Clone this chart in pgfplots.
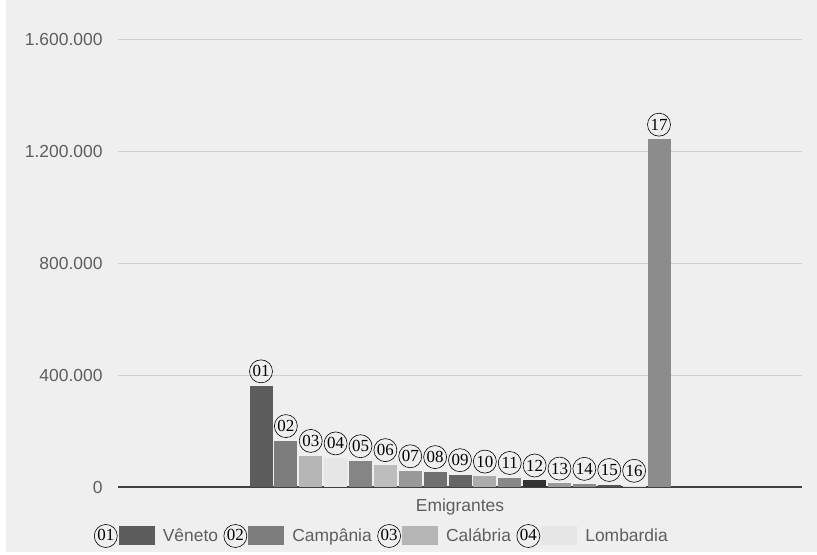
\documentclass[border=0pt]{standalone}
\usepackage{fontspec}
\setmainfont{Liberation Sans}
\newfontfamily\circserif{Liberation Serif}
\usepackage{pgfplots}
\pgfplotsset{compat=1.18}

\definecolor{bg}{HTML}{EFEFEF}
\definecolor{txt}{HTML}{5E5E5E}
\definecolor{gridc}{HTML}{CFCFCF}
\definecolor{c01}{HTML}{5C5C5C}
\definecolor{c02}{HTML}{7D7D7D}
\definecolor{c03}{HTML}{B5B5B5}
\definecolor{c04}{HTML}{E6E6E6}
\definecolor{c05}{HTML}{858585}
\definecolor{c06}{HTML}{BDBDBD}
\definecolor{c07}{HTML}{999999}
\definecolor{c08}{HTML}{707070}
\definecolor{c09}{HTML}{656565}
\definecolor{c10}{HTML}{ACACAC}
\definecolor{c11}{HTML}{888888}
\definecolor{c12}{HTML}{333333}
\definecolor{c13}{HTML}{9A9A9A}
\definecolor{c14}{HTML}{8A8A8A}
\definecolor{c15}{HTML}{555555}
\definecolor{c16}{HTML}{DDDDDD}
\definecolor{c17}{HTML}{8C8C8C}

\tikzset{circnum/.style={circle,draw=black,line width=0.6bp,inner sep=0pt,
  minimum size=23bp,fill=none,text=black,font=\fontsize{17}{17}\selectfont\circserif}}
\pgfplotsset{
  circleg/.style={legend image code/.code={%
    \node[circnum] at (-13bp,0bp) {#1};
    \fill[##1,draw=none] (0bp,-9.5bp) rectangle (36bp,9.5bp);}},
  bar/.style n args={2}{fill=#1,draw=none,nodes near coords={#2},circleg={#2}},
}

\begin{document}
\begin{tikzpicture}[font=\fontsize{17.5}{20}\selectfont]
  \fill[white] (0,0) rectangle (817bp,555bp);
  \fill[bg] (6bp,3bp) rectangle (817bp,555bp);
  \begin{axis}[
    at={(118bp,68bp)}, anchor=south west,
    width=684bp, height=447bp, scale only axis,
    ybar=1.875bp, bar width=23bp,
    xmin=-1, xmax=1, ymin=0, ymax=1600000,
    xtick={0}, xticklabels={Emigrantes},
    ytick={0,400000,800000,1200000,1600000},
    scaled y ticks=false,
    yticklabel style={/pgf/number format/fixed, /pgf/number format/precision=0,
      /pgf/number format/1000 sep={.}, /pgf/number format/assume math mode=true,
      xshift=-12bp},
    ymajorgrids, grid style={gridc, line width=1bp},
    major tick length=0pt,
    axis x line*=bottom, axis y line*=left,
    x axis line style={draw=black!75, line width=1.2bp, -},
    y axis line style={draw=none},
    tick label style={text=txt},
    xticklabel style={yshift=-8bp},
    every node near coord/.append style={circnum, anchor=south, yshift=3bp},
    legend style={at={(axis description cs:-0.0351,-0.1096)}, anchor=west,
      draw=none, fill=none, inner sep=0pt, outer sep=0pt,
      nodes={inner sep=0pt, text=txt},
      /tikz/every odd column/.append style={column sep=8bp},
      /tikz/every even column/.append style={column sep=5.5bp}},
    legend columns=-1,
    legend entries={Vêneto,Campânia,Calábria,Lombardia},
  ]
    \addplot[bar={c01}{01}] coordinates {(0,361000)};
    \addplot[bar={c02}{02}] coordinates {(0,165000)};
    \addplot[bar={c03}{03}] coordinates {(0,112000)};
    \addplot[bar={c04}{04}] coordinates {(0,103000)};
    \addplot[bar={c05}{05}] coordinates {(0,93000)};
    \addplot[bar={c06}{06}] coordinates {(0,79000)};
    \addplot[bar={c07}{07}] coordinates {(0,57000)};
    \addplot[bar={c08}{08}] coordinates {(0,54000)};
    \addplot[bar={c09}{09}] coordinates {(0,43000)};
    \addplot[bar={c10}{10}] coordinates {(0,38000)};
    \addplot[bar={c11}{11}] coordinates {(0,33000)};
    \addplot[bar={c12}{12}] coordinates {(0,24000)};
    \addplot[bar={c13}{13}] coordinates {(0,13000)};
    \addplot[bar={c14}{14}] coordinates {(0,12000)};
    \addplot[bar={c15}{15}] coordinates {(0,8000)};
    \addplot[bar={c16}{16}] coordinates {(0,5000)};
    \addplot[bar={c17}{17}] coordinates {(0,1244000)};
  \end{axis}
\end{tikzpicture}
\end{document}
